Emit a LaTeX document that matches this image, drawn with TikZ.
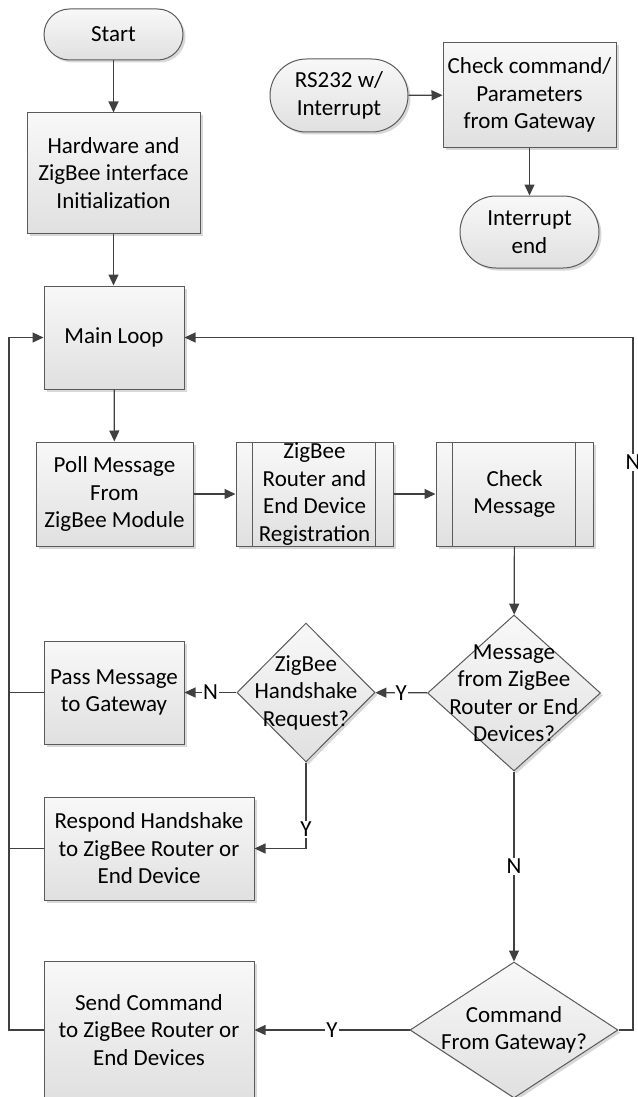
\documentclass[tikz,border=0pt]{standalone}
\usepackage{fontspec}
\setmainfont{Carlito}
\usetikzlibrary{shapes.geometric,shadows,arrows.meta}
\definecolor{linec}{HTML}{404040}
\definecolor{bordc}{HTML}{5A5A5A}
\definecolor{topc}{HTML}{F8F8F8}
\definecolor{botc}{HTML}{E0E0E0}
\begin{document}
\begin{tikzpicture}[x=1pt,y=-1pt,
  font=\fontsize{23}{27.5}\selectfont,
  box/.style={draw=bordc, line width=1pt, top color=topc, bottom color=botc,
    drop shadow={shadow xshift=2.5pt,shadow yshift=-2.5pt,fill=black!30,opacity=0.5},
    align=center, inner sep=0pt},
  term/.style={box},
  dia/.style={box, diamond},
  arr/.style={draw=linec, line width=1.2pt, -{Triangle[length=11pt,width=10pt]}},
  plain/.style={draw=linec, line width=1.2pt},
  lbl/.style={fill=white, inner sep=1pt, text=black},
  txt/.style={align=center, inner sep=0pt}
]
\useasboundingbox (0,0) rectangle (637,1097);

% top-left
\node[term, rounded corners=25.5pt, minimum width=139pt, minimum height=51pt] (start) at (113.5,34.5) {Start};
\node[box, minimum width=173pt, minimum height=120pt] (hw) at (113.5,173) {Hardware and\\ZigBee interface\\Initialization};

% interrupt part
\node[term, rounded corners=36.5pt, minimum width=138pt, minimum height=73pt] (rs) at (339,95.5) {RS232 w/\\Interrupt};
\node[box, minimum width=173pt, minimum height=104pt] (chk) at (529.5,95) {Check command/\\Parameters\\from Gateway};
\node[term, rounded corners=36pt, minimum width=139pt, minimum height=72pt] (iend) at (529.5,232) {Interrupt\\end};

% main loop
\node[box, minimum width=140pt, minimum height=103pt] (main) at (114,337.5) {Main Loop};
\node[box, minimum width=157pt, minimum height=104pt] (poll) at (114.5,494) {Poll Message\\From\\ZigBee Module};
\node[box, minimum width=157pt, minimum height=104pt] (reg) at (314.5,494) {ZigBee\\Router and\\End Device\\Registration};
\node[box, minimum width=157pt, minimum height=104pt] (cmsg) at (514.5,494) {Check\\Message};
\draw[bordc, line width=1pt] ([xshift=17pt]reg.north west) -- ([xshift=17pt]reg.south west);
\draw[bordc, line width=1pt] ([xshift=-18pt]reg.north east) -- ([xshift=-18pt]reg.south east);
\draw[bordc, line width=1pt] ([xshift=17pt]cmsg.north west) -- ([xshift=17pt]cmsg.south west);
\draw[bordc, line width=1pt] ([xshift=-18pt]cmsg.north east) -- ([xshift=-18pt]cmsg.south east);

% decisions
\node[dia, minimum width=173pt, minimum height=156pt,
  label={[txt]center:Message\\from ZigBee\\Router or End\\Devices?}] (d1) at (514,693) {};
\node[dia, minimum width=138pt, minimum height=139pt,
  label={[txt]center:ZigBee\\Handshake\\Request?}] (d2) at (306,692.5) {};
\node[box, minimum width=140pt, minimum height=103pt] (pass) at (114,692.5) {Pass Message\\to Gateway};
\node[box, minimum width=210pt, minimum height=103pt] (resp) at (149,848.5) {Respond Handshake\\to ZigBee Router or\\End Device};
\node[box, minimum width=210pt, minimum height=138pt] (send) at (149,1030) {Send Command\\to ZigBee Router or\\End Devices};
\node[dia, minimum width=208pt, minimum height=136pt,
  label={[txt]center:Command\\From Gateway?}] (d3) at (514,1030) {};

\coordinate (lt) at (9,0);
\coordinate (rt) at (633,1030);

% connectors
\draw[arr] (start) -- (hw);
\draw[arr] (hw.south) -- (hw.south |- main.north);
\draw[arr] (rs) -- (chk);
\draw[arr] (chk) -- (iend);
\draw[arr] (main) -- (poll);
\draw[arr] (poll) -- (reg);
\draw[arr] (reg) -- (cmsg);
\draw[arr] (cmsg) -- (d1);
\draw[arr] (d1) -- node[lbl]{Y} (d2);
\draw[arr] (d2) -- node[lbl]{N} (pass);
\draw[arr] (d2.south) |- node[lbl,pos=0.39]{Y} (resp.east);
\draw[arr] (d1) -- node[lbl]{N} (d3);
\draw[arr] (d3) -- node[lbl]{Y} (send);
\draw[arr] (d3.east) -- (rt) |- node[lbl,pos=0.41]{N} (main.east);
\draw[arr] (send.west) -- (send.west -| lt) |- (main.west);
\draw[plain] (pass.west) -- (pass.west -| lt);
\draw[plain] (resp.west) -- (resp.west -| lt);
\end{tikzpicture}
\end{document}
